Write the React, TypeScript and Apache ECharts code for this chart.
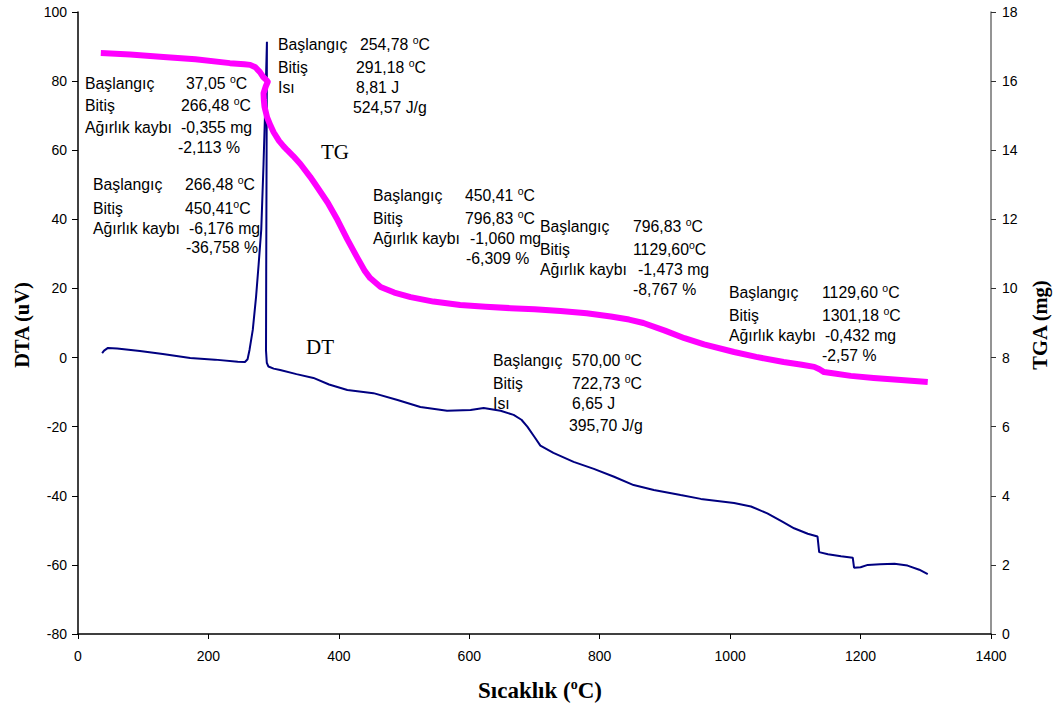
import React, { useEffect, useRef } from "react";
import * as echarts from "echarts";

// ---- Data ----
const dtaT = [37, 40, 46, 60, 95, 130, 172, 210, 245, 256, 260, 263, 268, 273, 277, 281, 284.5, 287.5, 289.7, 289.2, 288.6, 288.3, 289.5, 292, 300, 310, 335, 361, 385, 413, 453, 490, 525, 566, 602, 622, 648, 668, 680, 689, 700, 709, 729, 760, 791, 822, 852, 883, 924, 955, 1006, 1032, 1057, 1080, 1098, 1119, 1134, 1136.5, 1150, 1170, 1188, 1190, 1200, 1211, 1230, 1252, 1272, 1290, 1303];
const dtaV = [1.3, 2.0, 2.8, 2.6, 1.9, 1.0, -0.1, -0.6, -1.2, -1.3, -0.5, 2.2, 8, 17.5, 27, 37, 56, 75, 91.4, 60, 25, 2, -1.5, -2.6, -3.2, -3.6, -4.8, -5.9, -7.8, -9.4, -10.3, -12.3, -14.3, -15.4, -15.2, -14.6, -15.4, -16.6, -18.0, -20.0, -23.0, -25.5, -27.6, -30.2, -32.2, -34.5, -36.9, -38.3, -39.8, -40.9, -42.1, -43.1, -45.1, -47.5, -49.4, -51.0, -51.8, -56.3, -56.9, -57.5, -57.9, -60.8, -60.7, -60.0, -59.8, -59.7, -60.2, -61.4, -62.7];

const tgT = [35, 80, 131, 180, 233, 255, 264, 272, 279, 284, 289, 291, 288, 284.5, 285, 286, 290, 295, 300, 308, 315, 321, 330, 341, 356, 367, 383, 398, 413, 428, 440, 448, 464, 485, 510, 545, 586, 625, 663, 700, 740, 780, 817, 845, 867, 900, 930, 960, 1006, 1040, 1082, 1110, 1129, 1137, 1144, 1160, 1185, 1220, 1262, 1303];
const tgV = [16.81, 16.77, 16.70, 16.63, 16.52, 16.49, 16.47, 16.40, 16.26, 16.12, 16.03, 15.98, 15.85, 15.65, 15.45, 15.26, 14.95, 14.72, 14.52, 14.28, 14.12, 14.00, 13.83, 13.60, 13.23, 12.93, 12.48, 11.98, 11.42, 10.90, 10.50, 10.30, 10.04, 9.88, 9.75, 9.62, 9.52, 9.47, 9.43, 9.40, 9.35, 9.28, 9.19, 9.10, 9.00, 8.78, 8.56, 8.38, 8.16, 8.02, 7.87, 7.79, 7.73, 7.66, 7.58, 7.54, 7.47, 7.41, 7.35, 7.29];

const xTicks = { min: 0, max: 1400, interval: 200 };
const yLeftTicks = { min: -80, max: 100, interval: 20 };
const yRightTicks = { min: 0, max: 18, interval: 2 };

// Annotation texts
const annoBlocks: { lx: number; rows: { y: number; label?: string; vx: number; value: string; deg?: boolean }[] }[] = [
  { lx: 278, rows: [
    { y: 44, label: "Başlangıç", vx: 360, value: "254,78 ", deg: true },
    { y: 67, label: "Bitiş", vx: 356, value: "291,18 ", deg: true },
    { y: 87, label: "Isı", vx: 356, value: "8,81 J" },
    { y: 107, vx: 353, value: "524,57 J/g" },
  ] },
  { lx: 85, rows: [
    { y: 83, label: "Başlangıç", vx: 186, value: "37,05 ", deg: true },
    { y: 105, label: "Bitiş", vx: 181, value: "266,48 ", deg: true },
    { y: 127, label: "Ağırlık kaybı", vx: 181, value: "-0,355 mg" },
    { y: 147, vx: 178, value: "-2,113 %" },
  ] },
  { lx: 93, rows: [
    { y: 184, label: "Başlangıç", vx: 185, value: "266,48 ", deg: true },
    { y: 208, label: "Bitiş", vx: 185, value: "450,41", deg: true },
    { y: 228, label: "Ağırlık kaybı", vx: 189, value: "-6,176 mg" },
    { y: 247, vx: 186, value: "-36,758 %" },
  ] },
  { lx: 373, rows: [
    { y: 195, label: "Başlangıç", vx: 465, value: "450,41 ", deg: true },
    { y: 218, label: "Bitiş", vx: 465, value: "796,83 ", deg: true },
    { y: 238, label: "Ağırlık kaybı", vx: 470, value: "-1,060 mg" },
    { y: 258, vx: 466, value: "-6,309 %" },
  ] },
  { lx: 540, rows: [
    { y: 226, label: "Başlangıç", vx: 633, value: "796,83 ", deg: true },
    { y: 249, label: "Bitiş", vx: 633, value: "1129,60", deg: true },
    { y: 269, label: "Ağırlık kaybı", vx: 638, value: "-1,473 mg" },
    { y: 289, vx: 633, value: "-8,767 %" },
  ] },
  { lx: 729, rows: [
    { y: 292, label: "Başlangıç", vx: 822, value: "1129,60 ", deg: true },
    { y: 315, label: "Bitiş", vx: 822, value: "1301,18 ", deg: true },
    { y: 335, label: "Ağırlık kaybı", vx: 825, value: "-0,432 mg" },
    { y: 355, vx: 822, value: "-2,57 %" },
  ] },
  { lx: 493, rows: [
    { y: 360, label: "Başlangıç", vx: 572, value: "570,00 ", deg: true },
    { y: 383, label: "Bitiş", vx: 572, value: "722,73 ", deg: true },
    { y: 403, label: "Isı", vx: 572, value: "6,65 J" },
    { y: 425, vx: 569, value: "395,70 J/g" },
  ] },
];

const SANS = "'Liberation Sans', Arial, sans-serif";
const SERIF = "'Liberation Serif', 'Times New Roman', serif";
const FS = 15.8;

const RICH = {
  n: { fontSize: FS, fontFamily: SANS, lineHeight: 19, fill: "#000" },
  s: { fontSize: 10.5, fontFamily: SANS, lineHeight: 10, verticalAlign: "top", fill: "#000" },
};

function txt(x: number, y: number, text: string) {
  return {
    type: "text",
    x,
    y,
    silent: true,
    style: { text, fontSize: FS, fontFamily: SANS, fill: "#000", align: "left", verticalAlign: "middle", rich: RICH },
  };
}

function buildGraphics() {
  const els: any[] = [];
  annoBlocks.forEach((b) => {
    b.rows.forEach((r) => {
      if (r.label) els.push(txt(b.lx, r.y, `{n|${r.label}}`));
      const v = r.deg ? `{n|${r.value}}{s|o}{n|C}` : `{n|${r.value}}`;
      els.push(txt(r.vx, r.y, v));
    });
  });
  els.push({ type: "text", x: 321, y: 152, silent: true, style: { text: "TG", fontSize: 21, fontFamily: SERIF, fill: "#000", verticalAlign: "middle" } });
  els.push({ type: "text", x: 306, y: 347, silent: true, style: { text: "DT", fontSize: 21, fontFamily: SERIF, fill: "#000", verticalAlign: "middle" } });
  els.push({ type: "text", x: 22, y: 325, rotation: Math.PI / 2, silent: true, style: { text: "DTA (uV)", fontSize: 20.5, fontWeight: "bold", fontFamily: SERIF, fill: "#000", align: "center", verticalAlign: "middle" } });
  els.push({ type: "text", x: 1040, y: 325, rotation: Math.PI / 2, silent: true, style: { text: "TGA (mg)", fontSize: 20.5, fontWeight: "bold", fontFamily: SERIF, fill: "#000", align: "center", verticalAlign: "middle" } });
  els.push({
    type: "text", x: 540, y: 690, silent: true,
    style: {
      text: "{t|Sıcaklık (}{s|o}{t|C)}", align: "center", verticalAlign: "middle",
      rich: {
        t: { fontSize: 23, fontWeight: "bold", fontFamily: SERIF, fill: "#000", lineHeight: 26 },
        s: { fontSize: 14, fontWeight: "bold", fontFamily: SERIF, fill: "#000", lineHeight: 14, verticalAlign: "top" },
      },
    },
  });
  return els;
}

export default function App() {
  const ref = useRef<HTMLDivElement>(null);
  useEffect(() => {
    document.body.style.margin = "0";
    const chart = echarts.init(ref.current!, null, { renderer: "svg" });
    const dtaData = dtaT.map((t, i) => [t, dtaV[i]]);
    const tgData = tgT.map((t, i) => [t, tgV[i]]);
    const axisLabel = { color: "#000", fontSize: 14, fontFamily: SANS, formatter: (v: number) => String(v) };
    chart.setOption({
      animation: false,
      backgroundColor: "#fff",
      grid: { left: 78, right: 65, top: 12, bottom: 75, containLabel: false },
      xAxis: {
        type: "value",
        ...xTicks,
        axisLine: { show: true, onZero: false, lineStyle: { color: "#000", width: 1.5 } },
        axisTick: { show: true, length: 5, lineStyle: { color: "#000" } },
        axisLabel: { ...axisLabel, margin: 15 },
        splitLine: { show: false },
      },
      yAxis: [
        {
          type: "value",
          ...yLeftTicks,
          position: "left",
          axisLine: { show: true, onZero: false, lineStyle: { color: "#000", width: 1.5 } },
          axisTick: { show: true, length: 6, lineStyle: { color: "#000" } },
          axisLabel: { ...axisLabel, margin: 11 },
          splitLine: { show: false },
        },
        {
          type: "value",
          ...yRightTicks,
          position: "right",
          axisLine: { show: true, onZero: false, lineStyle: { color: "#707070", width: 1.5 } },
          axisTick: { show: true, length: 5, lineStyle: { color: "#303030" } },
          axisLabel: { ...axisLabel, margin: 11 },
          splitLine: { show: false },
        },
      ],
      series: [
        {
          name: "DTA",
          type: "line",
          yAxisIndex: 0,
          data: dtaData,
          showSymbol: false,
          symbol: "none",
          lineStyle: { color: "#000080", width: 2 },
          z: 2,
        },
        {
          name: "TG",
          type: "line",
          yAxisIndex: 1,
          data: tgData,
          showSymbol: false,
          symbol: "none",
          lineStyle: { color: "#ff00ff", width: 6, cap: "butt", join: "round" },
          z: 3,
        },
      ],
      graphic: buildGraphics(),
    });
    return () => chart.dispose();
  }, []);
  return <div ref={ref} style={{ width: 1056, height: 709 }} />;
}
